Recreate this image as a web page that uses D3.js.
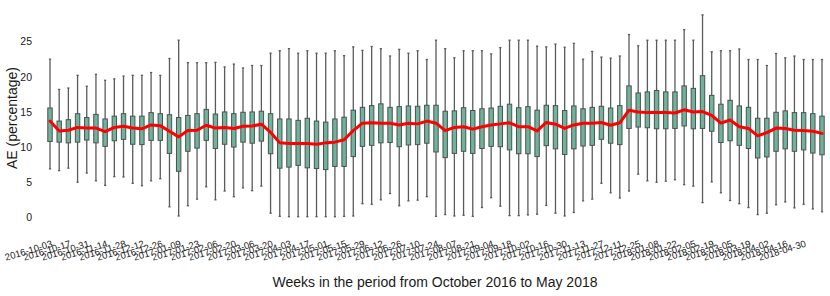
<!DOCTYPE html>
<html>
<head>
<meta charset="utf-8">
<script src="https://cdn.jsdelivr.net/npm/d3@7"></script>
<style>
  body { margin: 0; background: #fff; }
  svg { display: block; font-family: "Liberation Sans", Arial, sans-serif; }
</style>
</head>
<body>
<div id="chart"></div>
<script>
var weeks = [
  '2016-10-03', '2016-10-10', '2016-10-17', '2016-10-24', '2016-10-31', '2016-11-07', '2016-11-14', '2016-11-21',
  '2016-11-28', '2016-12-05', '2016-12-12', '2016-12-19', '2016-12-26', '2017-01-02', '2017-01-09', '2017-01-16',
  '2017-01-23', '2017-01-30', '2017-02-06', '2017-02-13', '2017-02-20', '2017-02-27', '2017-03-06', '2017-03-13',
  '2017-03-20', '2017-03-27', '2017-04-03', '2017-04-10', '2017-04-17', '2017-04-24', '2017-05-01', '2017-05-08',
  '2017-05-15', '2017-05-22', '2017-05-29', '2017-06-05', '2017-06-12', '2017-06-19', '2017-06-26', '2017-07-03',
  '2017-07-10', '2017-07-17', '2017-07-24', '2017-07-31', '2017-08-07', '2017-08-14', '2017-08-21', '2017-08-28',
  '2017-09-04', '2017-09-11', '2017-09-18', '2017-09-25', '2017-10-02', '2017-10-09', '2017-10-16', '2017-10-23',
  '2017-10-30', '2017-11-06', '2017-11-13', '2017-11-20', '2017-11-27', '2017-12-04', '2017-12-11', '2017-12-18',
  '2017-12-25', '2018-01-01', '2018-01-08', '2018-01-15', '2018-01-22', '2018-01-29', '2018-02-05', '2018-02-12',
  '2018-02-19', '2018-02-26', '2018-03-05', '2018-03-12', '2018-03-19', '2018-03-26', '2018-04-02', '2018-04-09',
  '2018-04-16', '2018-04-23', '2018-04-30', '2018-05-07', '2018-05-14'
]

var tickLabels = [
  '2016-10-03', '2016-10-17', '2016-10-31', '2016-11-14', '2016-11-28', '2016-12-12', '2016-12-26',
  '2017-01-09', '2017-01-23', '2017-02-06', '2017-02-20', '2017-03-06', '2017-03-20', '2017-04-03',
  '2017-04-17', '2017-05-01', '2017-05-15', '2017-05-29', '2017-06-12', '2017-06-26', '2017-07-10',
  '2017-07-24', '2017-08-07', '2017-08-21', '2017-09-04', '2017-09-18', '2017-10-02', '2017-10-16',
  '2017-10-30', '2017-11-13', '2017-11-27', '2017-12-11', '2017-12-25', '2018-01-08', '2018-01-22',
  '2018-02-05', '2018-02-19', '2018-03-05', '2018-03-19', '2018-04-02', '2018-04-16', '2018-04-30'
]

var yTicks = [0, 5, 10, 15, 20, 25]

// upper whisker end
var whiskerHigh = [
  22.5, 18.2, 18.4, 20.2, 18.65, 20.35, 19.5, 19.7, 20.1, 20.2, 20.2, 20.6, 20.2, 22.6, 25.2, 22.0, 22.0,
  22.0, 22.05, 21.4, 21.8, 21.25, 21.6, 21.6, 23.35, 23.7, 24.0, 23.35, 23.7, 23.35, 23.35, 23.7, 23.0, 24.25,
  23.75, 24.3, 24.0, 22.95, 23.9, 23.35, 23.7, 22.45, 25.2, 24.0, 22.7, 23.7, 23.7, 23.7, 23.25, 24.15, 25.2,
  25.2, 25.2, 24.35, 24.25, 24.65, 24.2, 24.75, 22.5, 23.6, 22.8, 22.65, 22.95, 26.0, 24.4, 25.2, 25.2, 25.2,
  25.2, 26.7, 25.2, 28.8, 23.55, 23.7, 23.7, 23.95, 22.45, 22.45, 21.6, 23.3, 22.7, 22.95, 22.45, 22.45, 22.45
]
// third quartile
var q3 = [
  15.56, 13.7, 13.9, 14.75, 14.2, 14.65, 14.0, 14.4, 14.75, 14.4, 14.4, 14.9, 14.75, 14.6, 14.2, 14.5, 14.75,
  15.35, 14.7, 15.0, 14.75, 14.95, 15.0, 15.1, 14.75, 14.0, 14.0, 13.8, 14.1, 13.7, 13.55, 14.0, 14.25, 15.25,
  15.65, 15.9, 16.15, 15.65, 15.75, 15.85, 15.8, 15.95, 15.95, 15.1, 15.15, 15.6, 15.2, 15.45, 15.55, 15.8, 16.1,
  15.6, 15.75, 15.25, 15.95, 15.9, 15.2, 15.85, 15.45, 15.65, 15.8, 15.55, 15.9, 18.7, 17.7, 17.85, 18.05, 17.85,
  17.85, 18.7, 18.35, 20.15, 17.35, 16.1, 16.65, 15.85, 15.65, 14.1, 14.1, 14.95, 15.15, 14.9, 14.9, 14.75, 14.4
]
// first quartile
var q1 = [
  10.8, 10.7, 10.6, 10.7, 11.0, 10.6, 10.1, 10.9, 11.1, 10.4, 10.35, 10.95, 10.95, 9.1, 6.55, 9.4, 9.85,
  10.95, 9.8, 10.4, 10.0, 10.7, 10.55, 10.85, 9.05, 7.0, 7.15, 7.4, 7.05, 6.95, 6.8, 7.25, 7.25, 8.65,
  10.1, 10.25, 10.6, 10.65, 10.05, 10.3, 10.35, 10.55, 9.3, 8.5, 9.1, 9.4, 9.1, 9.8, 10.1, 10.05, 9.6,
  9.05, 9.05, 8.65, 10.2, 9.75, 8.95, 9.75, 10.15, 10.25, 11.1, 10.55, 10.35, 12.65, 12.85, 12.75, 12.6, 12.6,
  12.65, 13.0, 12.6, 12.65, 12.25, 10.65, 10.9, 10.25, 9.8, 8.45, 8.6, 9.4, 9.75, 9.4, 9.6, 9.15, 8.9
]
// lower whisker end
var whiskerLow = [
  6.9, 6.65, 7.0, 5.0, 6.3, 5.2, 4.55, 5.8, 5.75, 4.85, 4.5, 5.2, 5.5, 1.5, 0.2, 1.65, 2.6,
  4.35, 2.5, 3.75, 2.95, 4.2, 3.8, 4.45, 0.6, 0.15, 0.1, 0.1, 0.1, 0.1, 0.1, 0.1, 0.15, 0.2,
  1.95, 1.85, 2.5, 3.4, 1.65, 2.35, 2.45, 2.95, 0.15, 0.4, 0.2, 0.3, 0.15, 1.4, 2.8, 1.6, 0.25,
  0.25, 0.35, 0.45, 1.7, 0.6, 0.2, 0.7, 2.35, 2.6, 4.85, 3.5, 2.75, 3.75, 6.15, 5.2, 5.0, 5.15,
  5.35, 4.65, 4.45, 2.1, 5.05, 3.5, 2.4, 1.95, 1.4, 0.4, 0.6, 1.8, 2.2, 1.35, 1.85, 1.2, 0.8
]
// weekly median (red line)
var medians = [
  13.7, 12.3, 12.4, 12.8, 12.7, 12.7, 12.2, 12.8, 12.95, 12.7, 12.6, 13.15, 13.05, 12.25, 11.45, 12.35, 12.4,
  13.1, 12.7, 12.8, 12.65, 12.95, 13.0, 13.25, 12.1, 10.6, 10.5, 10.5, 10.5, 10.4, 10.6, 10.7, 11.05, 12.35,
  13.4, 13.45, 13.4, 13.4, 13.15, 13.4, 13.3, 13.7, 13.4, 12.35, 12.8, 12.9, 12.55, 12.9, 13.15, 13.3, 13.45,
  12.9, 12.9, 12.3, 13.5, 13.25, 12.65, 13.15, 13.4, 13.4, 13.5, 13.1, 13.45, 15.25, 15.0, 14.9, 14.9, 14.9,
  14.85, 15.3, 15.0, 15.05, 14.5, 13.4, 13.85, 12.9, 12.65, 11.6, 12.05, 12.7, 12.65, 12.4, 12.35, 12.25, 11.95
]

var w = 830
var h = 296

var svg = d3.select('#chart').append('svg')
  .attr('width', w)
  .attr('height', h)

var x = d3.scaleBand().domain(weeks).range([45.4, 826.6])
var y = d3.scaleLinear().domain([0, 25]).range([217.4, 41.6])

var step = x.bandwidth()
var boxW = step * 0.48
var capW = boxW * 0.5
function cx (wk) { return x(wk) + step / 2 }

var boxes = weeks.map(function (wk, i) {
  return { week: wk, hi: whiskerHigh[i], q3: q3[i], q1: q1[i], lo: whiskerLow[i] }
})

// y axis, no ticks or domain line
var yAxis = d3.axisLeft(y).tickValues(yTicks).tickSize(0).tickPadding(0)
var gy = svg.append('g').attr('transform', 'translate(32,0)').call(yAxis)
gy.select('.domain').remove()
gy.selectAll('text')
  .attr('fill', '#1a1a1a')
  .style('font-size', '10.5px')
  .style('font-family', '"Liberation Sans", Arial, sans-serif')

// x tick labels, one every second week
svg.append('g').selectAll('text')
  .data(tickLabels)
  .enter().append('text')
  .attr('transform', function (d) { return 'translate(' + (cx(d) + 3) + ',246.5) rotate(-17)' })
  .attr('text-anchor', 'end')
  .attr('fill', '#1a1a1a')
  .style('font-size', '9.6px')
  .text(function (d) { return d })

var g = svg.append('g')

// whiskers
g.selectAll('line.whisker')
  .data(boxes)
  .enter().append('line')
  .attr('class', 'whisker')
  .attr('x1', function (d) { return cx(d.week) })
  .attr('x2', function (d) { return cx(d.week) })
  .attr('y1', function (d) { return y(d.lo) })
  .attr('y2', function (d) { return y(d.hi) })
  .attr('stroke', '#5a5a5a')
  .attr('stroke-width', 1.3)

// caps
;['lo', 'hi'].forEach(function (k) {
  g.selectAll('line.cap-' + k)
    .data(boxes)
    .enter().append('line')
    .attr('class', 'cap-' + k)
    .attr('x1', function (d) { return cx(d.week) - capW / 2 })
    .attr('x2', function (d) { return cx(d.week) + capW / 2 })
    .attr('y1', function (d) { return y(d[k]) })
    .attr('y2', function (d) { return y(d[k]) })
    .attr('stroke', '#5a5a5a')
    .attr('stroke-width', 1.3)
})

// boxes
g.selectAll('rect')
  .data(boxes)
  .enter().append('rect')
  .attr('x', function (d) { return cx(d.week) - boxW / 2 })
  .attr('y', function (d) { return y(d.q3) })
  .attr('width', boxW)
  .attr('height', function (d) { return y(d.q1) - y(d.q3) })
  .attr('fill', '#6db49b')
  .attr('stroke', '#4f4f4f')
  .attr('stroke-width', 1)

// median line
var line = d3.line()
  .x(function (d, i) { return cx(weeks[i]) })
  .y(function (d) { return y(d) })

svg.append('path')
  .datum(medians)
  .attr('d', line)
  .attr('fill', 'none')
  .attr('stroke', '#ff0000')
  .attr('stroke-width', 3)
  .attr('stroke-linejoin', 'round')
  .attr('stroke-linecap', 'round')

// axis titles
svg.append('text')
  .attr('x', 435)
  .attr('y', 287)
  .attr('text-anchor', 'middle')
  .attr('fill', '#1a1a1a')
  .style('font-size', '14px')
  .text('Weeks in the period from October 2016 to May 2018')

svg.append('text')
  .attr('transform', 'translate(17,118) rotate(-90)')
  .attr('text-anchor', 'middle')
  .attr('fill', '#1a1a1a')
  .style('font-size', '14px')
  .text('AE (percentage)')
</script>
</body>
</html>
